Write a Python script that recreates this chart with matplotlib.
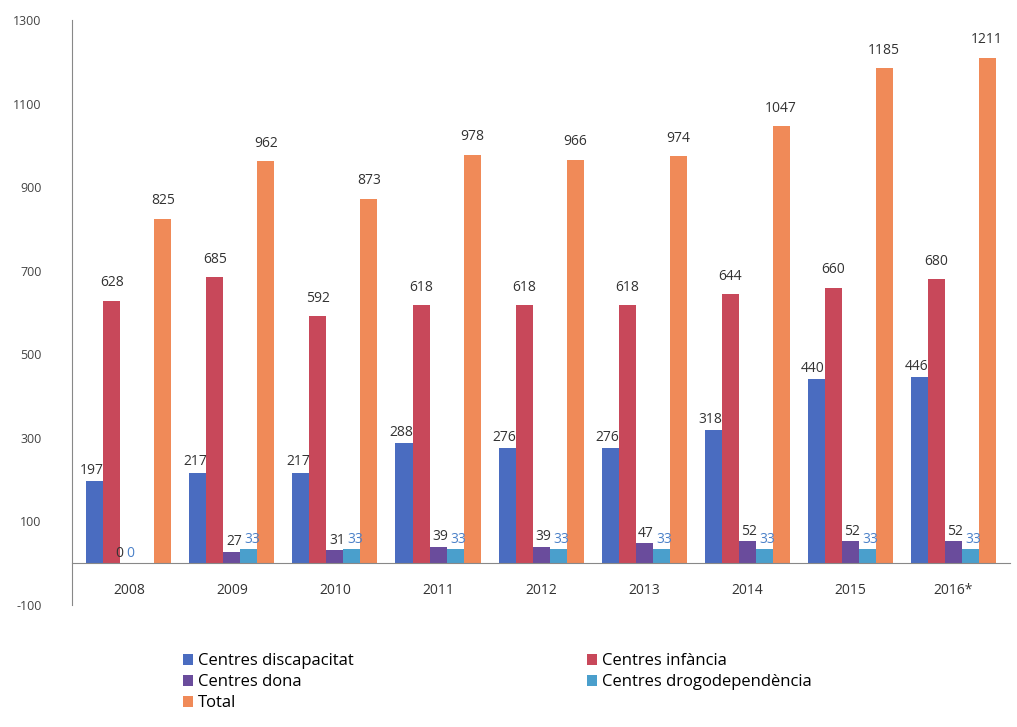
import matplotlib
matplotlib.use("Agg")
import matplotlib.pyplot as plt
import numpy as np

years = ["2008", "2009", "2010", "2011", "2012", "2013", "2014", "2015", "2016*"]
discapacitat = [197, 217, 217, 288, 276, 276, 318, 440, 446]
infancia = [628, 685, 592, 618, 618, 618, 644, 660, 680]
dona = [0, 27, 31, 39, 39, 47, 52, 52, 52]
drogo = [0, 33, 33, 33, 33, 33, 33, 33, 33]
total = [825, 962, 873, 978, 966, 974, 1047, 1185, 1211]

series_names = ["Centres discapacitat", "Centres infància", "Centres dona",
                "Centres drogodependència", "Total"]
colors = ["#4a6cc0", "#c8485a", "#6a4c9c", "#4a9fcc", "#f08a58"]
label_colors = ["#333333", "#333333", "#333333", "#4a80c8", "#333333"]

plt.rcParams['font.family'] = ['Open Sans', 'DejaVu Sans']
plt.rcParams['axes.unicode_minus'] = False

fig = plt.figure(figsize=(10.17, 7.27), dpi=100)
ax = fig.add_axes([0.071, 0.168, 0.922, 0.804])

x = np.arange(len(years))
w = 0.165
data = [discapacitat, infancia, dona, drogo, total]
offsets = [-2, -1, 0, 1, 2]

for vals, off, col, lcol, name in zip(data, offsets, colors, label_colors, series_names):
    ax.bar(x + off * w, vals, w, color=col, label=name)
    for i, (xi, v) in enumerate(zip(x + off * w, vals)):
        if off == -2:
            ax.text(xi - 0.03, v + 8, str(v), ha='center', va='bottom', fontsize=10, color=lcol)
        elif off == 0:
            shift = -0.09 if v == 0 else 0.02
            ax.text(xi + shift, v + 6, str(v), ha='center', va='bottom', fontsize=10, color=lcol)
        elif off == 1:
            shift = -0.15 if v == 0 else 0.03
            ax.text(xi + shift, v + 6, str(v), ha='center', va='bottom', fontsize=10, color=lcol)
        else:
            ax.text(xi, v + 25, str(v), ha='center', va='bottom', fontsize=10, color=lcol)

ax.set_xlim(-0.55, len(years) - 0.45)
ax.set_ylim(-100, 1300)
ax.set_yticks([-100, 100, 300, 500, 700, 900, 1100, 1300])
ax.tick_params(axis='y', length=0, labelsize=9, colors='#444444', pad=22)
ax.set_xticks(x)
ax.set_xticklabels(years)
ax.tick_params(axis='x', length=0, labelsize=10, colors='#333333', pad=14)

for s in ['top', 'right']:
    ax.spines[s].set_visible(False)
ax.spines['bottom'].set_position(('data', 0))
ax.spines['bottom'].set_color('#888888')
ax.spines['left'].set_color('#888888')

handles, labels = ax.get_legend_handles_labels()
order = [0, 2, 4, 1, 3]
fig.legend([handles[i] for i in order], [labels[i] for i in order],
           loc='upper left', bbox_to_anchor=(0.165, 0.122), ncol=2,
           frameon=False, fontsize=12, handlelength=0.6, handleheight=0.6,
           handletextpad=0.3, labelspacing=0.3, columnspacing=14)

fig.savefig("out.png", dpi=100)
